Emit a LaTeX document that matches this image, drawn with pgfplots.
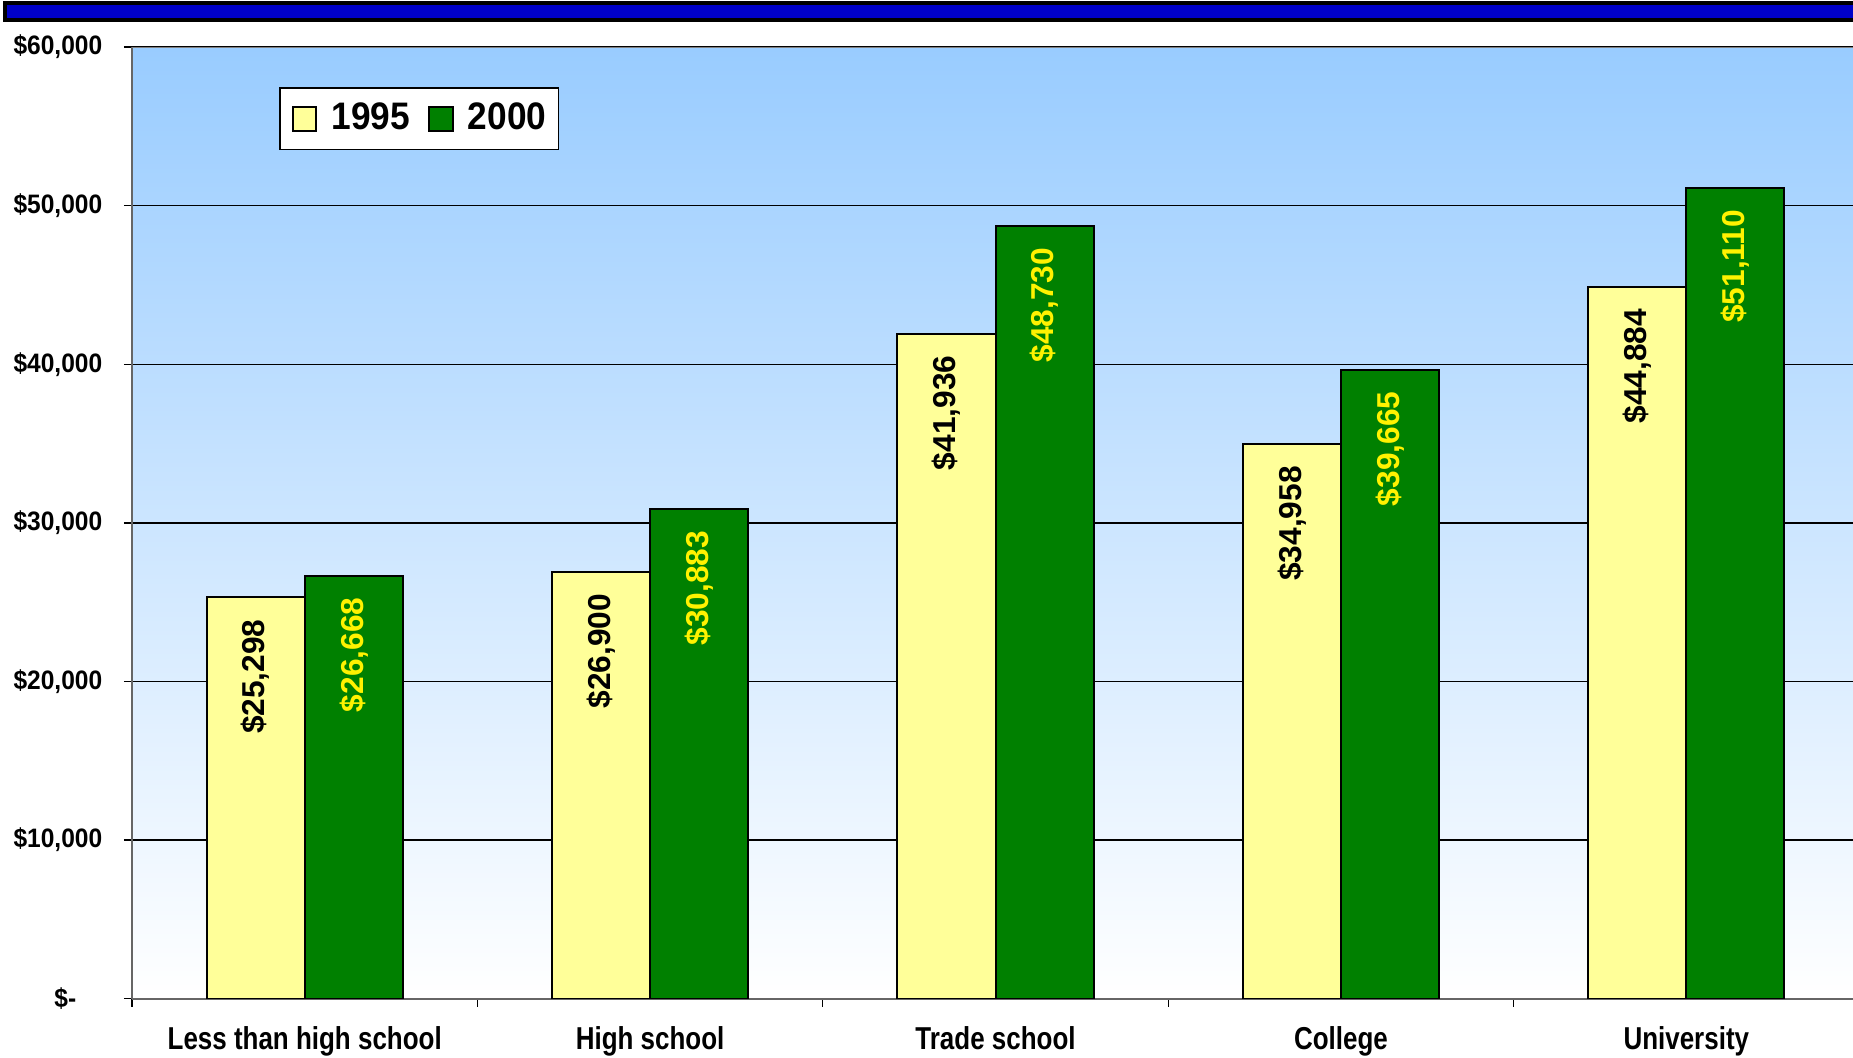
\documentclass[border=0pt]{standalone}
\usepackage{pgfplots}
\pgfplotsset{compat=1.18}
\usepackage{fontspec}
\setmainfont{Liberation Sans}
\newfontfamily\narrow[FakeStretch=0.82]{Liberation Sans}
\newfontfamily\semi[FakeStretch=0.92]{Liberation Sans}

\definecolor{y95}{RGB}{255,255,153}
\definecolor{g00}{RGB}{0,128,0}
\definecolor{sky}{RGB}{153,204,255}
\definecolor{stripe}{RGB}{0,0,200}

\pgfplotsset{
  legsq/.style={legend image code/.code={
    \draw[##1, draw=black, line width=0.6pt] (0pt,-3.6pt) rectangle (7pt,3.6pt);}},
}

\begin{document}
\begin{tikzpicture}
\path[use as bounding box] (-39.6pt,-17.5pt) rectangle (516.3pt,299.6pt);
\filldraw[fill=stripe, draw=black, line width=1pt] (-38.1pt,293.6pt) rectangle (522pt,298.7pt);
\begin{axis}[
  at={(0,0)}, anchor=south west,
  scale only axis,
  width=518.1pt, height=285.5pt,
  xmin=-0.5, xmax=4.5, ymin=0, ymax=60000,
  scaled y ticks=false,
  axis background/.style={top color=sky, bottom color=white},
  axis x line*=bottom, axis y line*=left,
  axis line style={draw=black!60, line width=0.6pt},
  ybar=0pt, bar width=0.284,
  xtick={-0.5,0.5,1.5,2.5,3.5,4.5},
  x tick label as interval,
  xticklabels={Less than high school, High school, Trade school, College, University},
  ytick={0,10000,20000,30000,40000,50000,60000},
  yticklabels={{\$-\hbox to 7.8pt{}},{\$10,000},{\$20,000},{\$30,000},{\$40,000},{\$50,000},{\$60,000}},
  tick align=outside,
  major tick length=2.4pt,
  tick style={black, line width=0.4pt},
  ymajorgrids,
  grid style={black, line width=0.4pt},
  yticklabel style={font=\semi\bfseries\fontsize{8}{9}\selectfont, xshift=-3pt},
  xticklabel style={font=\narrow\bfseries\fontsize{9.5}{11}\selectfont, yshift=-2.3pt},
  /pgf/number format/.cd, fixed, precision=0, 1000 sep={,}, assume math mode=true,
  /pgfplots/.cd,
  nodes near coords={\$\pgfmathprintnumber{\pgfplotspointmeta}},
  every node near coord/.append style={rotate=90, anchor=east, inner xsep=6.3pt,
    font=\bfseries\fontsize{9.5}{10}\selectfont},
  legend columns=2,
  legend style={at={(0.0851,0.958)}, anchor=north west, draw=black, fill=white,
    line width=0.5pt, inner xsep=3.6pt, inner ysep=2.5pt,
    font=\semi\bfseries\fontsize{11.5}{13}\selectfont,
    nodes={inner xsep=0pt},
    /tikz/every odd column/.append style={column sep=4.3pt},
    /tikz/every even column/.append style={column sep=5.5pt}},
]
\addplot[fill=y95, draw=black, line width=0.6pt, bar shift=-0.142, legsq,
  every node near coord/.append style={text=black}]
  coordinates {(0,25298) (1,26900) (2,41936) (3,34958) (4,44884)};
\addlegendentry{1995}
\addplot[fill=g00, draw=black, line width=0.6pt, bar shift=0.142, legsq,
  every node near coord/.append style={text=yellow}]
  coordinates {(0,26668) (1,30883) (2,48730) (3,39665) (4,51110)};
\addlegendentry{2000}
\draw[black!50, line width=0.6pt] (rel axis cs:0,1) -- (rel axis cs:1,1);
\end{axis}
\end{tikzpicture}
\end{document}
